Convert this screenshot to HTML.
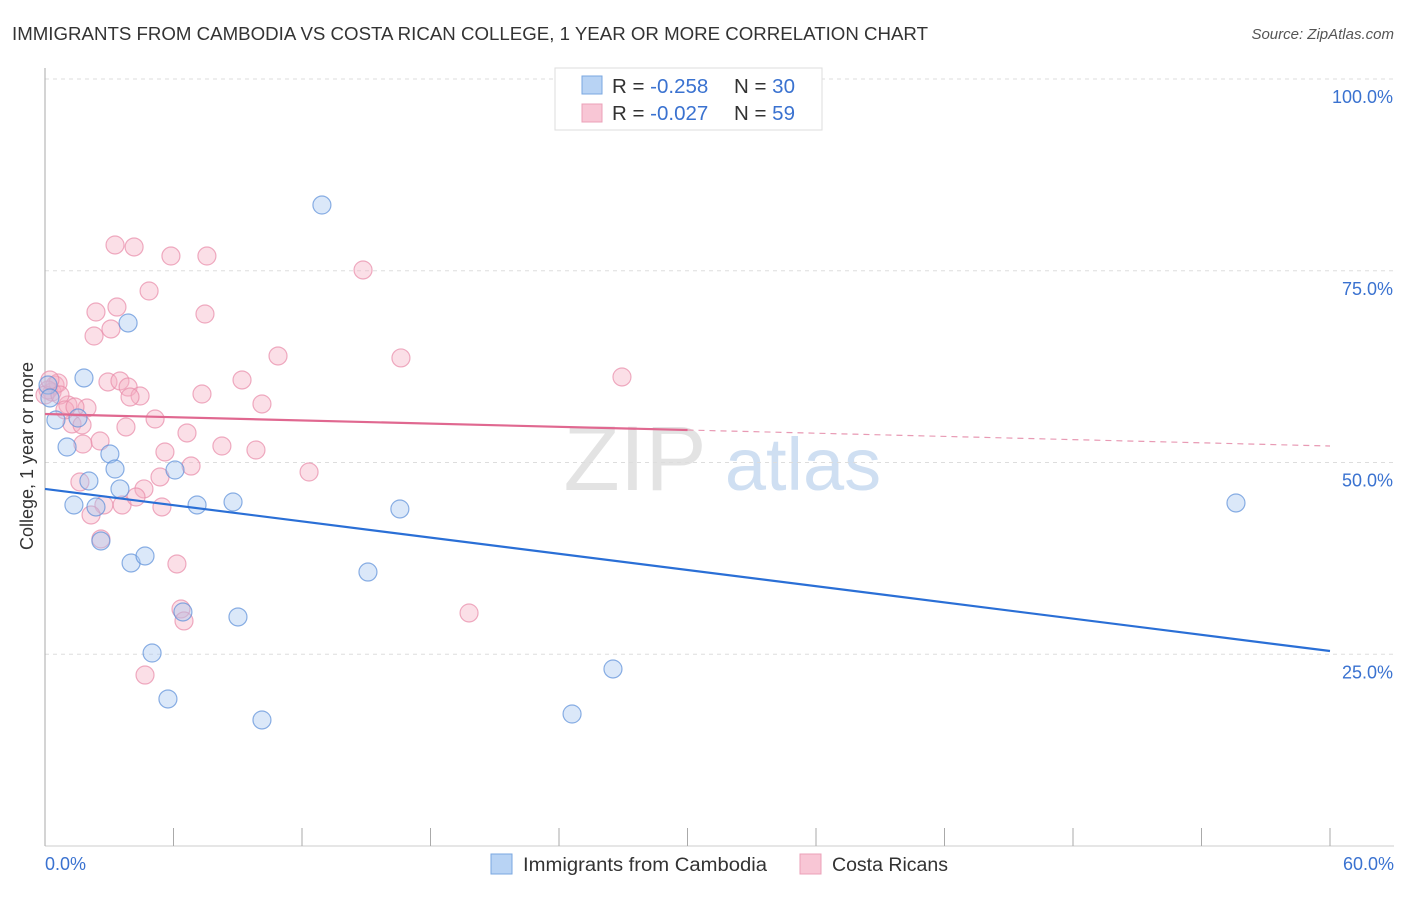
<!DOCTYPE html>
<html><head><meta charset="utf-8"><style>
body{margin:0;background:#fff;font-family:"Liberation Sans",sans-serif;}
svg text{font-family:"Liberation Sans",sans-serif;}
</style></head><body>
<svg id="chart" width="1406" height="892">
<text x="12" y="40" font-size="18" fill="#333" textLength="916" lengthAdjust="spacingAndGlyphs">IMMIGRANTS FROM CAMBODIA VS COSTA RICAN COLLEGE, 1 YEAR OR MORE CORRELATION CHART</text>
<text x="1394" y="39" font-size="15" fill="#555" font-style="italic" text-anchor="end">Source: ZipAtlas.com</text>
<text x="33" y="456" font-size="18" fill="#333" text-anchor="middle" transform="rotate(-90 33 456)">College, 1 year or more</text>
<g>
<text x="635" y="490" font-size="92" fill="#e3e3e3" font-family="Liberation Serif" text-anchor="middle">ZIP</text>
<text x="803" y="490" font-size="74" fill="#cfdff2" text-anchor="middle">atlas</text>
</g>
<g id="grid"></g><g id="axes"></g><g id="marks"></g>
<g>
<rect x="555" y="68" width="267" height="62" fill="#fff" stroke="#ddd"/>
<rect x="582" y="76" width="20" height="18" fill="#b8d3f4" stroke="#7aa7e0"/>
<rect x="582" y="104" width="20" height="18" fill="#f8c6d5" stroke="#eba0b8"/>
<text x="612" y="93" font-size="20.5" fill="#333">R = <tspan fill="#3a72d0">-0.258</tspan><tspan x="734">N = </tspan><tspan fill="#3a72d0">30</tspan></text>
<text x="612" y="120" font-size="20.5" fill="#333">R = <tspan fill="#3a72d0">-0.027</tspan><tspan x="734">N = </tspan><tspan fill="#3a72d0">59</tspan></text>
</g>
<g>
<rect x="491" y="854" width="21" height="20" fill="#b8d3f4" stroke="#7aa7e0"/>
<text x="523" y="871" font-size="19" fill="#333" textLength="244" lengthAdjust="spacingAndGlyphs">Immigrants from Cambodia</text>
<rect x="800" y="854" width="21" height="20" fill="#f8c6d5" stroke="#eba0b8"/>
<text x="832" y="871" font-size="19" fill="#333" textLength="116" lengthAdjust="spacingAndGlyphs">Costa Ricans</text>
</g>
</svg>
<script>
const yTicks=[25,50,75,100];
const yTickLabels=["25.0%","50.0%","75.0%","100.0%"];
const xTickValues=[0,6,12,18,24,30,36,42,48,54,60];
const blueX=[12.93,3.88,1.82,0.51,1.03,3.03,2.05,3.27,6.07,3.50,1.35,2.38,7.10,8.78,16.57,2.61,4.02,4.67,15.08,6.44,9.01,5.00,26.52,5.74,10.13,24.61,55.61,1.54,0.14,0.23];
const blueY=[83.57,68.19,61.02,55.54,52.02,51.11,47.59,49.15,49.02,46.55,44.46,44.20,44.46,44.85,43.94,39.77,36.90,37.81,35.72,30.51,29.86,25.16,23.08,19.17,16.43,17.21,44.72,55.80,60.10,58.41];
const pinkX=[3.27,4.16,5.88,7.56,14.85,4.86,2.38,3.36,7.47,2.29,3.08,10.88,16.62,26.94,9.20,2.94,3.50,3.88,0.47,0.33,0.61,7.33,4.44,3.97,10.13,1.07,1.96,5.14,1.26,1.73,3.78,6.63,2.57,1.77,8.26,9.85,5.60,12.33,6.82,5.37,1.63,4.62,2.75,3.60,4.25,5.46,2.15,2.61,6.16,6.35,6.49,19.80,4.67,0.14,0.00,0.23,0.70,0.93,1.40];
const pinkY=[78.36,78.10,76.92,76.92,75.10,72.36,69.62,70.27,69.36,66.49,67.41,63.89,63.63,61.15,60.76,60.50,60.63,59.84,60.10,59.19,60.37,58.93,58.67,58.54,57.63,57.50,57.11,55.67,55.02,54.89,54.63,53.85,52.80,52.41,52.15,51.63,51.37,48.76,49.54,48.11,47.46,46.55,44.46,44.46,45.50,44.20,43.16,40.03,36.77,30.90,29.34,30.38,22.29,59.45,58.80,60.76,58.80,56.85,57.24];
const blueTrend=[46.55,25.42];
const pinkTrend=[56.32,52.15];
const pinkSolidEnd=30;
const X=v=>45+v/60*1285, Y=v=>846-v*7.67;
const NS="http://www.w3.org/2000/svg";
function mk(t,a,p){const e=document.createElementNS(NS,t);for(const k in a)e.setAttribute(k,a[k]);p.appendChild(e);return e;}
const grid=document.getElementById('grid'),axes=document.getElementById('axes'),marks=document.getElementById('marks');
yTicks.forEach((v,i)=>{
 const l=mk('line',{x1:45,x2:1394,y1:Y(v),y2:Y(v),stroke:'#ddd','stroke-dasharray':'4 4'},grid);
 
 
 const t=mk('text',{x:1393,y:Y(v)+24,'font-size':18,fill:'#3a72d0','text-anchor':'end'},grid);t.textContent=yTickLabels[i];
 
 
});
const ax=mk('line',{x1:45,x2:45,y1:68,y2:846,stroke:'#aaa'},axes);


const bx=mk('line',{x1:45,x2:1394,y1:846,y2:846,stroke:'#ccc'},axes);


xTickValues.forEach(v=>{const t=mk('line',{x1:X(v),x2:X(v),y1:828,y2:846,stroke:'#aaa'},axes);
 
 });
const xl0=mk('text',{x:45,y:870,'font-size':18,fill:'#3a72d0'},axes);xl0.textContent='0.0%';


const xl1=mk('text',{x:1394,y:870,'font-size':18,fill:'#3a72d0','text-anchor':'end'},axes);xl1.textContent='60.0%';


function pts(xs,ys,fill,stroke,name){xs.forEach((x,i)=>{const c=mk('circle',{cx:X(x),cy:Y(ys[i]),r:9,fill:fill,'fill-opacity':0.4,stroke:stroke,'stroke-opacity':0.7,'stroke-width':1.2},marks);
 
 });}
pts(pinkX,pinkY,'#f4aec4','#e88aa8','costa-rica-point');
pts(blueX,blueY,'#a6c6f0','#5b8fd8','cambodia-point');
const bl=mk('line',{x1:X(0),y1:Y(blueTrend[0]),x2:X(60),y2:Y(blueTrend[1]),stroke:'#2a6fd6','stroke-width':2.2},marks);


const py=v=>pinkTrend[0]+(pinkTrend[1]-pinkTrend[0])*v/60;
const ps=mk('line',{x1:X(0),y1:Y(pinkTrend[0]),x2:X(pinkSolidEnd),y2:Y(py(pinkSolidEnd)),stroke:'#e06890','stroke-width':2.2},marks);


const pd=mk('line',{x1:X(pinkSolidEnd),y1:Y(py(pinkSolidEnd)),x2:X(60),y2:Y(pinkTrend[1]),stroke:'#e89ab4','stroke-width':1.2,'stroke-dasharray':'6 5'},marks);


</script>
</body></html>
